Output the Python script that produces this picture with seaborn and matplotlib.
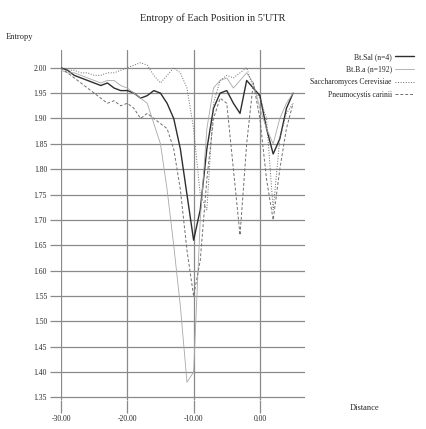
import numpy as np
import pandas as pd
import matplotlib
matplotlib.use('Agg')
import matplotlib.pyplot as plt
import seaborn as sns

# =========================
# DATA
# =========================
positions = list(range(-30, 6))

bt_sal = [2.00, 1.995, 1.985, 1.98, 1.975, 1.97, 1.965, 1.97, 1.96, 1.955,
          1.955, 1.95, 1.94, 1.945, 1.955, 1.95, 1.93, 1.90, 1.84, 1.75,
          1.66, 1.72, 1.84, 1.92, 1.95, 1.955, 1.93, 1.91, 1.975, 1.96,
          1.945, 1.88, 1.83, 1.86, 1.92, 1.95]

bt_ba = [1.995, 1.99, 1.99, 1.985, 1.98, 1.975, 1.97, 1.975, 1.975, 1.965,
         1.96, 1.95, 1.94, 1.93, 1.89, 1.85, 1.76, 1.65, 1.53, 1.38,
         1.40, 1.70, 1.88, 1.96, 1.975, 1.98, 1.96, 1.975, 1.99, 1.97,
         1.92, 1.88, 1.85, 1.90, 1.93, 1.95]

saccharo = [2.00, 1.995, 1.995, 1.99, 1.99, 1.985, 1.985, 1.99, 1.99, 1.995,
            2.00, 2.005, 2.01, 2.005, 1.985, 1.97, 1.985, 2.00, 1.99, 1.96,
            1.88, 1.75, 1.72, 1.93, 1.975, 1.985, 1.98, 1.99, 2.00, 1.96,
            1.94, 1.90, 1.72, 1.86, 1.91, 1.93]

pneumo = [2.00, 1.99, 1.98, 1.97, 1.96, 1.95, 1.94, 1.93, 1.935, 1.925,
          1.93, 1.92, 1.90, 1.91, 1.90, 1.89, 1.88, 1.84, 1.76, 1.64,
          1.55, 1.62, 1.78, 1.90, 1.94, 1.93, 1.80, 1.67, 1.85, 1.97,
          1.90, 1.78, 1.70, 1.80, 1.88, 1.93]

series_labels = ['Bt.Sal (n=4)', 'Bt.B.a (n=192)',
                 'Saccharomyces Cerevisiae', 'Pneumocystis carinii']
y_ticks = [2.00, 1.95, 1.90, 1.85, 1.80, 1.75, 1.70, 1.65,
           1.60, 1.55, 1.50, 1.45, 1.40, 1.35]
x_ticks = [-30, -20, -10, 0]

# =========================
# STYLE
# =========================
sns.set_style('white')
plt.rcParams['font.family'] = ['Liberation Serif', 'DejaVu Serif']

styles = [
    dict(color='#2e2e2e', lw=1.0, ls='-'),
    dict(color='#a8a8a8', lw=0.6, ls='-'),
    dict(color='#6a6a6a', lw=0.7, ls=':'),
    dict(color='#707070', lw=0.7, ls=(0, (3, 2))),
]

fig = plt.figure(figsize=(4.26, 4.29), dpi=100)
ax = fig.add_axes([61 / 426, 1 - 400 / 429, (305 - 61) / 426, 350 / 429])

for vals, lab, st in zip([bt_sal, bt_ba, saccharo, pneumo], series_labels, styles):
    df = pd.DataFrame({'pos': positions, 'entropy': vals})
    sns.lineplot(data=df, x='pos', y='entropy', ax=ax, label=lab,
                 color=st['color'], lw=st['lw'], linestyle=st['ls'])

ax.set_xlim(-30, 6.8)
ax.set_ylim(1.345, 2.035)
ax.set_xticks(x_ticks)
ax.set_xticklabels([f'{v:.2f}' for v in x_ticks])
ax.set_yticks(y_ticks)
ax.set_yticklabels([f'{v:.2f}' for v in y_ticks])
ax.grid(True, color='#8a8a8a', lw=0.9)
ax.set_axisbelow(True)
for s in ax.spines.values():
    s.set_visible(False)
ax.tick_params(axis='both', length=8, width=0.9, color='#8a8a8a',
               labelsize=5.5, pad=2, direction='out')
ax.tick_params(axis='x', length=9, pad=2)
ax.tick_params(left=True, bottom=True)
ax.set_xlabel('')
ax.set_ylabel('')

fig.text(0.5, 1 - 18 / 429, "Entropy of Each Position in 5'UTR",
         ha='center', va='center', fontsize=7.5)
fig.text(6 / 426, 1 - 37 / 429, 'Entropy', ha='left', va='center', fontsize=6)
fig.text(350 / 426, 1 - 408 / 429, 'Distance', ha='left', va='center', fontsize=6)

ax.legend(loc='upper left', bbox_to_anchor=(1.01, 1.0), frameon=False,
          fontsize=5.5, markerfirst=False, handlelength=2.5,
          labelspacing=0.6, borderaxespad=0, handletextpad=0.4)

fig.savefig('out.png', dpi=100)
